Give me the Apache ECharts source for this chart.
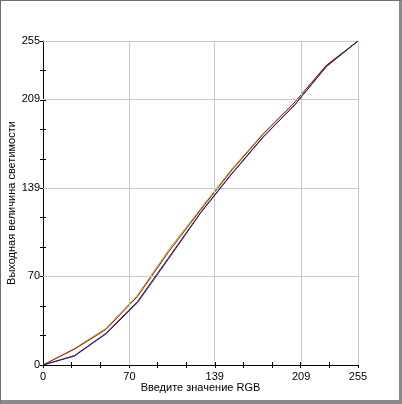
<!DOCTYPE html>
<html><head><meta charset="utf-8">
<script src="https://cdn.jsdelivr.net/npm/echarts@6/dist/echarts.min.js"></script>
<style>
html,body{margin:0;padding:0;background:#fff;}
#frame{position:absolute;left:0;top:0;width:398px;height:399px;border-top:1px solid #6e6e6e;border-left:1px solid #6e6e6e;border-right:3px solid #8a8a8a;border-bottom:4px solid #8a8a8a;background:#fff;}
#c{position:absolute;left:-1px;top:-1px;width:402px;height:404px;}
</style></head>
<body><div id="frame"><div id="c"></div></div>
<script>
const inputX = [0, 25.5, 51, 76.5, 102, 127.5, 153, 178.5, 204, 229.5, 255];
const greenY  = [0, 13, 29, 55, 91, 123, 154.5, 182.5, 207, 236, 255];
const redY    = [0, 12.5, 28, 54, 89.5, 122, 153.5, 182, 207, 236, 255];
const blueY   = [0, 7.5, 25, 50, 85, 120, 151, 180, 205, 235, 255];
const purpleY = [0, 7, 24.5, 49, 84, 119.5, 150.5, 179.5, 205, 235, 255];
const tickValues = [0, 23.18, 46.36, 69.55, 92.73, 115.91, 139.09, 162.27, 185.45, 208.64, 231.82, 255];
const labelValues = [0, 70, 139, 209, 255];
const gridValues = [70, 139, 209, 255];
const xName = 'Введите значение RGB';
const yName = 'Выходная величина светимости';

const font = {fontFamily:'Liberation Sans', fontSize:11, color:'#000'};
function pairs(ys){ return inputX.map((x,i)=>[x, ys[i]]); }
function mkSeries(ys, color, z){
  return {type:'line', data:pairs(ys), symbol:'none', smooth:false, z:z,
    lineStyle:{color:color, width:1}, itemStyle:{color:color}, animation:false, silent:true};
}
function axisPair(dim){
  const base = {type:'value', min:0, max:255, splitLine:{show:false}};
  const a0 = Object.assign({}, base, {
    name: dim==='x'? xName : yName, nameLocation:'middle',
    nameGap: dim==='x'? 17 : 26, nameMoveOverlap:false,
    nameTextStyle: Object.assign({}, font),
    axisLine:{show:true, lineStyle:{color:'#000', width:1}},
    axisTick:{show:true, inside:false, length:3, customValues:tickValues, lineStyle:{color:'#000'}},
    axisLabel:Object.assign({show:true, margin: dim==='x'?6:3, customValues:labelValues}, font)
  });
  const a1 = Object.assign({}, base, {
    position: dim==='x'?'bottom':'left',
    axisLine:{show:false},
    axisTick:{show:true, inside:true, length:3, customValues:tickValues, lineStyle:{color:'#000'}},
    axisLabel:{show:false}
  });
  return [a0, a1];
}
const gridSeries = {type:'line', data:[], z:1, silent:true, animation:false,
  markLine:{silent:true, symbol:'none', animation:false, label:{show:false},
    lineStyle:{color:'#c8c8c8', width:1, type:'solid'},
    data: gridValues.map(v=>({xAxis:v})).concat(gridValues.map(v=>({yAxis:v})))}};
const chart = echarts.init(document.getElementById('c'), null, {renderer:'canvas'});
chart.setOption({
  animation:false,
  grid:{left:43, right:44, top:41, bottom:39, containLabel:false, outerBoundsMode:'none'},
  xAxis: axisPair('x'),
  yAxis: axisPair('y'),
  series:[gridSeries,
    mkSeries(greenY, '#9cc010', 3),
    mkSeries(redY, '#c00000', 4),
    mkSeries(purpleY, '#700070', 5),
    mkSeries(blueY, '#003870', 6)
  ]
});
</script></body></html>
